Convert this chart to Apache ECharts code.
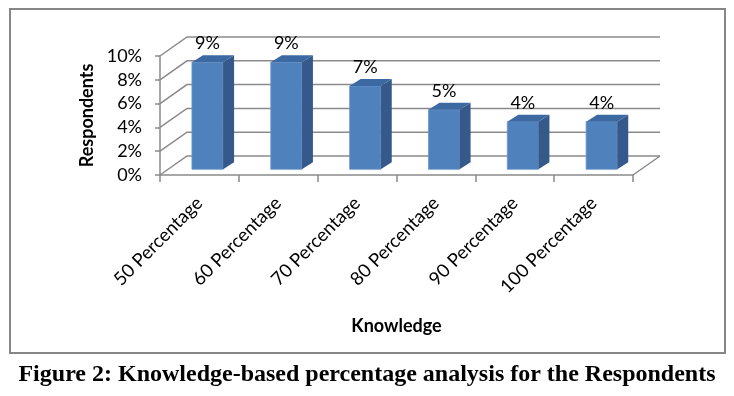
<!DOCTYPE html>
<html>
<head>
<meta charset="utf-8">
<script src="https://cdn.jsdelivr.net/npm/echarts@6/dist/echarts.min.js"></script>
<style>
html,body{margin:0;padding:0;background:#fff;}
#chart{width:734px;height:396px;}
</style>
</head>
<body>
<div id="chart"></div>
<script>
// ---- data ----
const categories = ['50 Percentage', '60 Percentage', '70 Percentage', '80 Percentage', '90 Percentage', '100 Percentage'];
const respondents = [9, 9, 7, 5, 4, 4];
const yTicks = [0, 2, 4, 6, 8, 10];
const xTitle = 'Knowledge';
const yTitle = 'Respondents';
const caption = 'Figure 2: Knowledge-based percentage analysis for the Respondents';

// ---- 3D look (pixel depth of the walls / bars) ----
const DX = 27, DY = 19;          // wall depth
const BF = 0.3;                  // bar front face depth fraction
const BDX = 11, BDY = 7;         // bar depth
const gridColor = '#8a8a8a';
const font = 'Lato, "Open Sans", sans-serif';

const chart = echarts.init(document.getElementById('chart'), null, {renderer: 'canvas'});

const option = {
  backgroundColor: '#fff',
  animation: false,
  title: {
    text: caption,
    left: 'center',
    top: 358,
    textStyle: {fontFamily: '"Liberation Serif", "Times New Roman", serif', fontWeight: 'bold', fontSize: 24, color: '#000'}
  },
  graphic: [{
    type: 'rect',
    shape: {x: 10, y: 9, width: 715, height: 344},
    style: {fill: 'none', stroke: '#868686', lineWidth: 2},
    z: -1
  }],
  grid: {left: 160, top: 56, right: 101, bottom: 221},
  xAxis: {
    type: 'category',
    data: categories,
    name: xTitle,
    nameLocation: 'middle',
    nameGap: 142,
    nameTextStyle: {fontFamily: font, fontWeight: 'bold', fontSize: 18, color: '#000'},
    axisLine: {lineStyle: {color: gridColor, width: 1.5}},
    axisTick: {show: true, length: 7, lineStyle: {color: gridColor, width: 1.5}},
    axisLabel: {rotate: 45, margin: 25, fontFamily: font, fontSize: 18.5, color: '#000', interval: 0}
  },
  yAxis: {
    type: 'value',
    min: 0, max: 10, interval: 2,
    name: yTitle,
    nameLocation: 'middle',
    nameRotate: 90,
    nameGap: 62,
    nameTextStyle: {fontFamily: font, fontWeight: 'bold', fontSize: 18, color: '#000'},
    axisLine: {show: true, lineStyle: {color: gridColor, width: 1.5}},
    axisTick: {show: true, length: 5, lineStyle: {color: gridColor, width: 1.5}},
    axisLabel: {formatter: '{value}%', margin: 18, fontFamily: font, fontSize: 18, color: '#000'},
    splitLine: {show: false}
  },
  series: [
    {
      type: 'custom',
      name: 'walls',
      silent: true,
      clip: false,
      z: 1,
      data: yTicks.map(v => [0, v]),
      renderItem: function (params, api) {
        const cs = params.coordSys;
        const v = api.value(1);
        const y = api.coord([0, v])[1];
        const x0 = cs.x, x1 = cs.x + cs.width;
        const children = [{
          type: 'polyline',
          shape: {points: [[x0, y], [x0 + DX, y - DY], [x1 + DX, y - DY]]},
          style: {stroke: gridColor, lineWidth: 1.5, fill: null}
        }];
        if (v === 0) {
          children.push({
            type: 'line',
            shape: {x1: x1, y1: y, x2: x1 + DX, y2: y - DY},
            style: {stroke: gridColor, lineWidth: 1.5}
          });
        }
        return {type: 'group', children: children};
      }
    },
    {
      type: 'custom',
      name: 'Respondents',
      clip: false,
      z: 3,
      data: respondents.map((v, i) => [i, v]),
      renderItem: function (params, api) {
        const i = api.value(0), v = api.value(1);
        const p0 = api.coord([i, 0]);
        const p1 = api.coord([i, v]);
        const band = api.size([1, 0])[0];
        const w = band * 0.395;
        const cx = p0[0] + BF * DX;
        const bottom = p0[1] - BF * DY;
        const top = p1[1] - BF * DY;
        const l = cx - w / 2, r = cx + w / 2;
        return {
          type: 'group',
          children: [
            {type: 'rect', shape: {x: l, y: top, width: w, height: bottom - top},
             style: {fill: '#4F81BD', stroke: '#6D95C8', lineWidth: 0.8}},
            {type: 'polygon', shape: {points: [[r, top], [r + BDX, top - BDY], [r + BDX, bottom - BDY], [r, bottom]]},
             style: {fill: '#34598A'}},
            {type: 'polygon', shape: {points: [[l, top], [l + BDX, top - BDY], [r + BDX, top - BDY], [r, top]]},
             style: {fill: '#3D69A3'}},
            {type: 'text', style: {text: v + '%', x: cx, y: top - BDY - 12, align: 'center', verticalAlign: 'middle',
              font: '18px ' + font, fill: '#000'}}
          ]
        };
      }
    }
  ]
};
chart.setOption(option);
</script>
</body>
</html>
